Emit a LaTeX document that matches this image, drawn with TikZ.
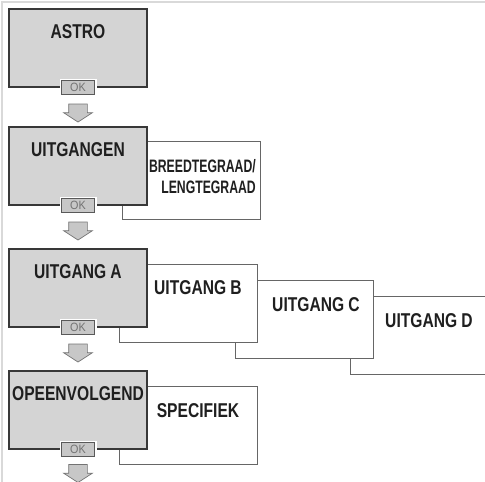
\documentclass[tikz,border=0pt]{standalone}
\usepackage{fontspec}
\setmainfont{Liberation Sans}
\newfontfamily\menufont[FakeStretch=0.78]{Liberation Sans}
\newfontfamily\narrowfont[FakeStretch=0.68]{Liberation Sans}
\newfontfamily\okfont[FakeStretch=0.9]{Liberation Sans}
\usetikzlibrary{shapes.arrows,positioning}

\begin{document}
\begin{tikzpicture}[x=1pt, y=-1pt,
  menu/.style={draw=black!78, line width=1.6pt, fill=black!17, inner sep=0pt,
               minimum width=138pt, minimum height=78pt},
  sub/.style={draw=black!60, line width=0.8pt, fill=white, inner sep=0pt,
              minimum width=138pt, minimum height=78pt},
  txt/.style={anchor=base, inner sep=0pt, text=black!88,
              font=\menufont\bfseries\fontsize{20}{22}\selectfont},
  small/.style={anchor=base east, inner sep=0pt, text=black!88,
                font=\narrowfont\bfseries\fontsize{18}{20}\selectfont},
  ok/.style={draw=black!65, line width=0.8pt, fill=black!22, inner sep=0pt,
             minimum width=33pt, minimum height=14pt, text=black!55,
             font=\okfont\fontsize{12}{13}\selectfont,
             preaction={draw=white, line width=4pt}},
  dn/.style={single arrow, draw=black!55, fill=black!22, line width=0.7pt,
             rotate=-90, inner xsep=0pt, inner ysep=9pt, minimum height=18pt,
             single arrow head extend=5pt, single arrow tip angle=114},
  frame/.style={draw=black!15, line width=2pt}
]
\useasboundingbox (0,0) rectangle (485,482);
\clip (0,0) rectangle (485,482);
\draw[frame] (2,482) -- (2,2) -- (485,2);

% ASTRO
\node[menu] (astro) at (78,48) {};
\node[txt] (astro-t) at ([yshift=-30pt]astro.north) {ASTRO};
\node[ok] (ok1) at (astro.south) {OK};
\node[dn] (dn1) at (78,110) {};

% UITGANGEN
\node[sub]  (breed) at (191,180.5) {};
\node[menu] (uitg) at (78,166) {};
\node[txt] (uitg-t) at ([yshift=-30pt]uitg.north) {UITGANGEN};
\node[small] (breed-t1) at (256,172) {BREEDTEGRAAD/};
\node[small] (breed-t2) at (256,193) {LENGTEGRAAD};
\node[ok] (ok2) at (uitg.south) {OK};
\node[dn] (dn2) at (78,228) {};

% UITGANG A..D
\node[sub]  (uitD) at (419,335.5) {};
\node[sub]  (uitC) at (304,319) {};
\node[sub]  (uitB) at (188,303) {};
\node[menu] (uitA) at (78,288) {};
\node[txt] (uitA-t) at ([yshift=-30pt]uitA.north) {UITGANG A};
\node[txt] (uitB-t) at (198,294) {UITGANG B};
\node[txt] (uitC-t) at (316,311) {UITGANG C};
\node[txt] (uitD-t) at (429,327) {UITGANG D};
\node[ok] (ok3) at (uitA.south) {OK};
\node[dn] (dn3) at (78,350) {};

% OPEENVOLGEND
\node[sub]  (spec) at (188,425) {};
\node[menu] (opeen) at (78,410) {};
\node[txt] (opeen-t) at ([yshift=-30pt]opeen.north) {OPEENVOLGEND};
\node[txt] (spec-t) at (198,417) {SPECIFIEK};
\node[ok] (ok4) at (opeen.south) {OK};
\node[dn] (dn4) at (78,470.5) {};
\end{tikzpicture}
\end{document}
